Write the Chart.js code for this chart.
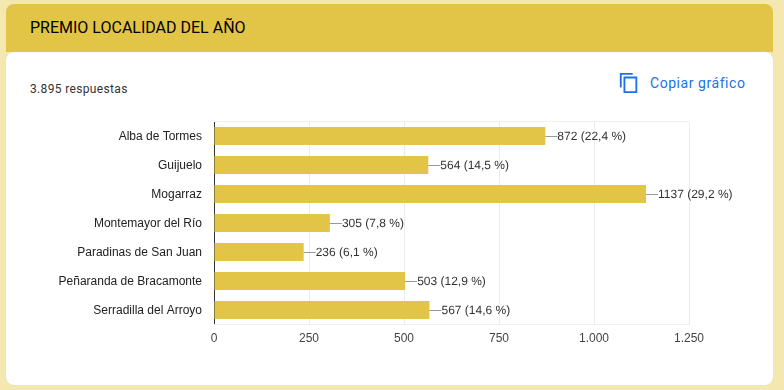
<!DOCTYPE html>
<html>
<head>
<meta charset="utf-8">
<script src="https://cdn.jsdelivr.net/npm/chart.js@4"></script>
<style>
html, body { margin: 0; padding: 0; width: 784px; height: 390px; overflow: hidden; background: #f4e8b0; }
#header { position: absolute; left: 6px; top: 4px; width: 767px; height: 48px; background: #e2c547; border-radius: 8px 8px 0 0; }
#title { position: absolute; left: 30px; top: 18px; font: 400 16px Roboto, sans-serif; color: #000; white-space: nowrap; }
#card { position: absolute; left: 6px; top: 52px; width: 767px; height: 333px; background: #fff; border-radius: 8px; box-shadow: 0 0 1px #c9cdd6; }
#count { position: absolute; left: 30px; top: 82px; font: 400 12px Roboto, sans-serif; letter-spacing: 0.35px; color: #333; white-space: nowrap; }
#copy { position: absolute; left: 650px; top: 75px; font: 400 14px Roboto, sans-serif; letter-spacing: 0.55px; color: #1a73e8; white-space: nowrap; }
#icon { position: absolute; left: 618px; top: 72px; }
#chartDiv { position: absolute; left: 0; top: 0; width: 784px; height: 390px; }
</style>
</head>
<body>
<div id="header"></div>
<div id="title">PREMIO LOCALIDAD DEL AÑO</div>
<div id="card"></div>
<div id="count">3.895 respuestas</div>
<svg id="icon" width="22" height="22" viewBox="0 0 24 24" fill="#1a73e8"><path d="M16 1H2v16h2V3h12V1zm5 4H6v18h15V5zm-2 16H8V7h11v14z"/></svg>
<div id="copy">Copiar gráfico</div>
<div id="chartDiv"><canvas id="myChart" width="784" height="390"></canvas></div>
<script>
const categories = ['Alba de Tormes', 'Guijuelo', 'Mogarraz', 'Montemayor del Río', 'Paradinas de San Juan', 'Peñaranda de Bracamonte', 'Serradilla del Arroyo'];
const values = [872, 564, 1137, 305, 236, 503, 567];
const percents = ['22,4', '14,5', '29,2', '7,8', '6,1', '12,9', '14,6'];
const xTickValues = [0, 250, 500, 750, 1000, 1250];
const xTickLabels = ['0', '250', '500', '750', '1.000', '1.250'];

const barColor = '#e2c547';
const labelFont = '12px "Liberation Sans", Arial, sans-serif';

// faint frame round the plot, leader line and "value (pct %)" text after each bar
const barLabels = {
    id: 'barLabels',
    beforeDatasetsDraw(chart) {
        const a = chart.chartArea;
        chart.ctx.save();
        chart.ctx.strokeStyle = '#f0f0f0';
        chart.ctx.lineWidth = 1;
        chart.ctx.beginPath();
        chart.ctx.moveTo(a.left, a.top);
        chart.ctx.lineTo(a.right, a.top);
        chart.ctx.moveTo(a.left, a.bottom);
        chart.ctx.lineTo(a.right, a.bottom);
        chart.ctx.stroke();
        chart.ctx.restore();
    },
    afterDatasetsDraw(chart) {
        const ctx = chart.ctx;
        const bars = chart.getDatasetMeta(0).data;
        ctx.save();
        ctx.font = labelFont;
        ctx.textRendering = 'geometricPrecision';
        ctx.textBaseline = 'middle';
        ctx.textAlign = 'left';
        bars.forEach((bar, i) => {
            const y = Math.round(bar.y) + 0.5;
            ctx.strokeStyle = '#999999';
            ctx.lineWidth = 1;
            ctx.beginPath();
            ctx.moveTo(bar.x, y);
            ctx.lineTo(bar.x + 12, y);
            ctx.stroke();
            ctx.fillStyle = '#333333';
            ctx.fillText(values[i] + ' (' + percents[i] + ' %)', bar.x + 12, y);
        });
        ctx.restore();
    }
};

const ctx = document.getElementById('myChart').getContext('2d');
const myChart = new Chart(ctx, {
    type: 'bar',
    plugins: [barLabels],
    data: {
        labels: categories,
        datasets: [{
            data: values,
            backgroundColor: barColor,
            borderWidth: 0,
            barPercentage: 0.62,
            categoryPercentage: 1
        }]
    },
    options: {
        indexAxis: 'y',
        responsive: false,
        animation: false,
        layout: { padding: { left: 0, top: 121.5, right: 95, bottom: 0 } },
        plugins: { legend: { display: false }, tooltip: { enabled: false } },
        scales: {
            x: {
                min: 0,
                max: 1250,
                afterBuildTicks: axis => { axis.ticks = xTickValues.map(v => ({ value: v })); },
                afterFit: axis => { axis.height = 65.5; },
                grid: { color: '#ebebeb', drawTicks: false },
                border: { display: false },
                ticks: {
                    padding: 7,
                    maxRotation: 0,
                    color: '#444444',
                    font: { family: '"Liberation Sans", Arial, sans-serif', size: 12 },
                    callback: (v, i) => xTickLabels[i]
                }
            },
            y: {
                afterFit: axis => { axis.width = 214; },
                grid: { display: false, drawTicks: false },
                border: { display: true, color: '#333333', width: 1 },
                ticks: {
                    padding: 12,
                    labelOffset: 1,
                    color: '#222222',
                    font: { family: '"Liberation Sans", Arial, sans-serif', size: 12 }
                }
            }
        }
    }
});
</script>
</body>
</html>
